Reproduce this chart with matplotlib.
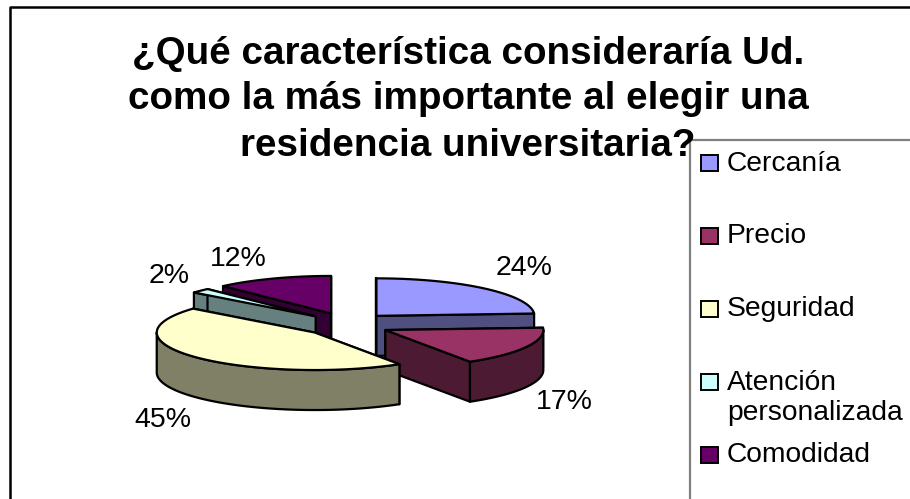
#!/usr/bin/python3
import numpy as np
import matplotlib
matplotlib.use('Agg')
import matplotlib.pyplot as plt
from matplotlib.patches import Polygon, Rectangle

plt.rcParams['font.family'] = ['Liberation Sans', 'DejaVu Sans']

title_lines = ['¿Qué característica consideraría Ud.', 'como la más importante al elegir una', 'residencia universitaria?']
categories = ['Cercanía', 'Precio', 'Seguridad', 'Atención\npersonalizada', 'Comodidad']
values = [24, 17, 45, 2, 12]
top_colors = ['#9999FF', '#993366', '#FFFFCC', '#CCFFFF', '#660066']
side_colors = ['#4F4F80', '#4D1A33', '#808066', '#668080', '#330033']

# pie geometry, in pixels
CX, CY = 347, 324.6
RX, RY = 158, 37.5
EXPLODE_X, EXPLODE_Y = 43, 12
DEPTH = 40

# back slices are painted first so the front ones cover them
paint_order = [4, 0, 3, 1, 2]
label_pos = [(524, 275), (564, 409), (163, 427), (169, 283), (238, 266)]
title_base = [63.5, 109, 156]
legend_y = [163, 236, 309, 382, 455]
legend_base = [171, 243, 316, 390, 462]
LEGEND_STEP = 30


def slice_angles(vals):
    edges = np.cumsum([0] + list(vals)) / sum(vals) * 2 * np.pi
    return edges[:-1], edges[1:]


def rim(a0, a1, ax_x, ax_y):
    t = np.linspace(a0, a1, 80)
    return np.column_stack([ax_x + RX * np.sin(t), ax_y - RY * np.cos(t)])


def draw_slice(ax, a0, a1, top, side):
    mid = (a0 + a1) / 2
    ax_x = CX + EXPLODE_X * np.sin(mid)
    ax_y = CY - EXPLODE_Y * np.cos(mid)
    apex = np.array([ax_x, ax_y])
    arc = rim(a0, a1, ax_x, ax_y)
    down = np.array([0, DEPTH])
    style = dict(edgecolor='black', linewidth=1.6, joinstyle='round')

    # the two cut faces
    for end in (arc[0], arc[-1]):
        ax.add_patch(Polygon([apex, end, end + down, apex + down], facecolor=side, **style))

    # outer wall, only the part facing the viewer
    front = np.linspace(max(a0, np.pi / 2), min(a1, 3 * np.pi / 2), 80)
    if front[-1] > front[0]:
        wall = np.column_stack([ax_x + RX * np.sin(front), ax_y - RY * np.cos(front)])
        ax.add_patch(Polygon(np.vstack([wall, wall[::-1] + down]), facecolor=side, **style))

    ax.add_patch(Polygon(np.vstack([apex, arc]), facecolor=top, **style))


fig = plt.figure(figsize=(9.1, 4.99), dpi=100)
ax = fig.add_axes([0, 0, 1, 1])
ax.set_xlim(0, 910)
ax.set_ylim(499, 0)
ax.axis('off')

# chart frame and legend box run off the image edges
ax.plot([10, 10, 910], [499, 7, 7], color='black', lw=1.8)
ax.plot([690, 690, 910], [499, 140, 140], color='#808080', lw=1.6)

start, stop = slice_angles(values)
for i in paint_order:
    draw_slice(ax, start[i], stop[i], top_colors[i], side_colors[i])

for v, (x, y) in zip(values, label_pos):
    ax.text(x, y, f'{v}%', fontsize=20.5, ha='center', va='baseline', color='black')

for line, y in zip(title_lines, title_base):
    ax.text(468, y, line, fontsize=27.8, fontweight='bold', ha='center', va='baseline', color='black')

for name, c, y, base in zip(categories, top_colors, legend_y, legend_base):
    ax.add_patch(Rectangle((701, y - 8), 17, 16, facecolor=c, edgecolor='black', lw=1.4))
    for j, part in enumerate(name.split('\n')):
        ax.text(727, base + j * LEGEND_STEP, part, fontsize=20.3, ha='left', va='baseline', color='black')

fig.savefig('out.png', dpi=100)
